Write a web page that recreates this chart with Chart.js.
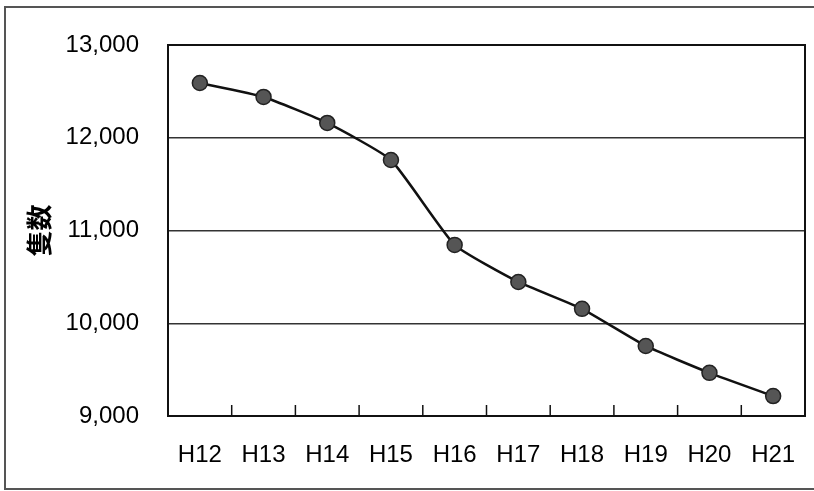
<!DOCTYPE html>
<html>
<head>
<meta charset="utf-8">
<script src="https://cdn.jsdelivr.net/npm/chart.js@4/dist/chart.umd.min.js"></script>
<style>
  html, body { margin: 0; padding: 0; background: #fff; }
  #wrap { position: relative; width: 814px; height: 491px; overflow: hidden; }
  #frame { position: absolute; left: 4px; top: 6px; width: 830px; height: 480px; border: 2px solid #555; }
  canvas { position: absolute; left: 0; top: 0; }
</style>
</head>
<body>
<div id="wrap">
  <div id="frame"></div>
  <canvas id="chart" width="814" height="491"></canvas>
</div>
<script>
'use strict';

// ---- Data ----
var years = ['H12', 'H13', 'H14', 'H15', 'H16', 'H17', 'H18', 'H19', 'H20', 'H21'];
var vessels = [12590, 12440, 12160, 11760, 10845, 10445, 10155, 9755, 9465, 9215];
var yTicks = [9000, 10000, 11000, 12000, 13000];

var FONT = "'Liberation Sans', Arial, sans-serif";

// Frame round the plot and short tick marks between categories
var plotFrame = {
  id: 'plotFrame',
  afterDraw: function(chart) {
    var ctx = chart.ctx;
    var a = chart.chartArea;
    var x = chart.scales.x;
    ctx.save();
    ctx.strokeStyle = '#111';
    ctx.lineWidth = 2;
    ctx.strokeRect(a.left, a.top, a.right - a.left, a.bottom - a.top);
    ctx.lineWidth = 1.5;
    for (var i = 0; i < years.length - 1; i++) {
      var px = (x.getPixelForValue(i) + x.getPixelForValue(i + 1)) / 2;
      ctx.beginPath();
      ctx.moveTo(px, a.bottom);
      ctx.lineTo(px, a.bottom - 11);
      ctx.stroke();
    }
    ctx.restore();
  }
};

new Chart(document.getElementById('chart'), {
  type: 'line',
  data: {
    labels: years,
    datasets: [{
      label: '隻数',
      data: vessels,
      borderColor: '#111',
      borderWidth: 2.5,
      tension: 0.15,
      pointRadius: 7.5,
      pointHoverRadius: 7.5,
      pointBackgroundColor: '#555',
      pointBorderColor: '#222',
      pointBorderWidth: 1.5,
      fill: false
    }]
  },
  options: {
    responsive: false,
    animation: false,
    layout: { padding: { top: 45, right: 0, bottom: 0, left: 0 } },
    plugins: { legend: { display: false }, tooltip: { enabled: false } },
    scales: {
      x: {
        offset: true,
        grid: { display: false, drawTicks: false },
        border: { display: true, color: '#111', width: 2 },
        ticks: { color: '#000', padding: 25, font: { family: FONT, size: 24 } },
        afterFit: function(s) { s.height = 75; s.paddingRight = 0; }
      },
      y: {
        min: 9000,
        max: 13000,
        afterBuildTicks: function(s) { s.ticks = yTicks.map(function(v) { return { value: v }; }); },
        grid: { color: '#333', lineWidth: 1.5, drawTicks: false },
        border: { display: true, color: '#111', width: 2 },
        ticks: {
          color: '#000',
          padding: 29,
          font: { family: FONT, size: 24 },
          callback: function(v) { return v.toLocaleString('en-US'); }
        },
        title: {
          display: true,
          text: '隻数',
          color: '#000',
          padding: { top: 24, bottom: 0 },
          font: { family: "'Noto Sans CJK JP', sans-serif", size: 26, weight: 'bold' }
        },
        afterFit: function(s) { s.width = 168; }
      }
    }
  },
  plugins: [plotFrame]
});
</script>
</body>
</html>
